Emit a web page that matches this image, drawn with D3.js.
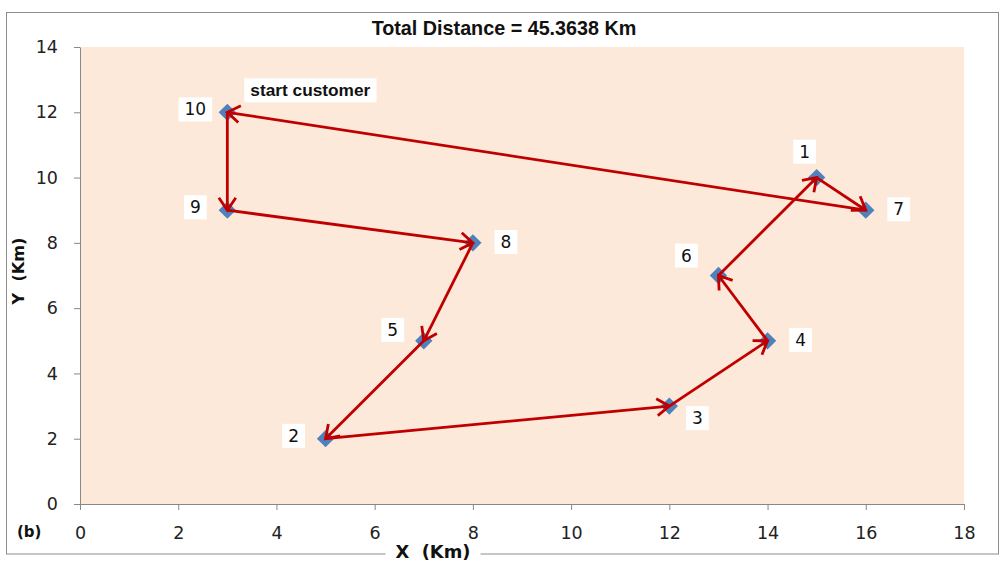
<!DOCTYPE html>
<html><head><meta charset="utf-8">
<script src="https://cdn.jsdelivr.net/npm/d3@7/dist/d3.min.js"></script>
<style>body{margin:0;background:#fff;}svg{display:block;font-family:"DejaVu Sans",Verdana,sans-serif;}</style>
</head><body>
<script>
// Data
const customers = [1,2,3,4,5,6,7,8,9,10];
const xs = [15,5,12,14,7,13,16,8,3,3];
const ys = [10,2,3,5,5,7,9,8,9,12];
const route = [10,9,8,5,2,3,4,6,1,7,10];
const xTicks = [0,2,4,6,8,10,12,14,16,18];
const yTicks = [0,2,4,6,8,10,12,14];
const title = "Total Distance = 45.3638 Km";
const startLabel = "start customer";
const xTitle = "X  (Km)";
const yTitle = "Y  (Km)";
const panelTag = "(b)";
// label placement (direction key) per customer
const labelPos = {1:"top",2:"left",3:"bottomright",4:"right",5:"upleft",6:"topleft",7:"right",8:"right",9:"left",10:"left"};

const W=1004,H=563;
const svg=d3.select("body").append("svg").attr("width",W).attr("height",H);
const m={l:80,r:964,t:47,b:504};
const x=d3.scaleLinear().domain([0,18]).range([m.l,m.r]);
const y=d3.scaleLinear().domain([0,14]).range([m.b,m.t]);
const FONT="DejaVu Sans, Verdana, sans-serif";
const ARIAL="Liberation Sans, Arial, sans-serif";

function fit(t,target){ // scale font-size so text width matches target
  const w=t.node().getComputedTextLength();
  const fs=parseFloat(t.attr("font-size"));
  t.attr("font-size",fs*target/w);
}
function boxBehind(parent,t,padX,padY,fixedH){
  const b=t.node().getBBox();
  const hh=fixedH||b.height+2*padY;
  const cy=b.y+b.height/2;
  parent.insert("rect",()=>t.node()).attr("x",b.x-padX).attr("y",cy-hh/2)
    .attr("width",b.width+2*padX).attr("height",hh).attr("fill","#fff");
}

// outer border
svg.append("rect").attr("x",6.5).attr("y",12.5).attr("width",992).attr("height",541.5)
  .attr("fill","#fff").attr("stroke","#8c8c8c").attr("stroke-width",1);

// plot background
svg.append("rect").attr("x",x(0)).attr("y",y(14)).attr("width",x(18)-x(0)).attr("height",y(0)-y(14))
  .attr("fill","#FDE9DA");

// axes
const gx=svg.append("g").attr("transform",`translate(0,${y(0)})`)
  .call(d3.axisBottom(x).tickValues(xTicks).tickSize(6).tickSizeOuter(0).tickPadding(17));
const gy=svg.append("g").attr("transform",`translate(${x(0)},0)`)
  .call(d3.axisLeft(y).tickValues(yTicks).tickSize(6).tickSizeOuter(0).tickPadding(16));
[gx,gy].forEach(g=>{
  g.selectAll("path,line").attr("stroke","#888");
  g.selectAll("text").attr("font-size",17.5).attr("fill","#222").attr("font-family",FONT);
});

// title
const tt=svg.append("text").attr("x",504).attr("y",35).attr("text-anchor","middle").attr("font-family",ARIAL)
  .attr("font-size",18).attr("font-weight","bold").attr("fill","#111").text(title);
fit(tt,265);

// axis titles
const xl=svg.append("text").attr("x",433).attr("y",558).attr("text-anchor","middle")
  .attr("font-size",16).attr("font-weight","bold").attr("fill","#111").attr("xml:space","preserve").text(xTitle);
fit(xl,75);
boxBehind(svg,xl,10,0,14);
const yl=svg.append("text").attr("transform","translate(24,271) rotate(-90)").attr("text-anchor","middle")
  .attr("font-size",16).attr("font-weight","bold").attr("fill","#111").attr("xml:space","preserve").text(yTitle);
fit(yl,67);
svg.append("text").attr("x",17).attr("y",537).attr("font-size",15).attr("font-weight","bold").attr("fill","#111").text(panelTag);

// arrows
const idx=id=>customers.indexOf(id);
const red="#C00000";
const arr=svg.append("g");
for(let i=0;i<route.length-1;i++){
  const a=idx(route[i]),b=idx(route[i+1]);
  const x1=x(xs[a]),y1=y(ys[a]),x2=x(xs[b]),y2=y(ys[b]);
  arr.append("line").attr("x1",x1).attr("y1",y1).attr("x2",x2).attr("y2",y2)
    .attr("stroke",red).attr("stroke-width",2.8);
  const ang=Math.atan2(y2-y1,x2-x1), L=15, sp=0.6;
  const p=[[x2-L*Math.cos(ang-sp),y2-L*Math.sin(ang-sp)],[x2,y2],[x2-L*Math.cos(ang+sp),y2-L*Math.sin(ang+sp)]];
  arr.append("path").attr("d",d3.line()(p)).attr("fill","none").attr("stroke",red).attr("stroke-width",2.8);
}

// markers below the arrows
svg.insert("g",()=>arr.node()).selectAll("path").data(customers).join("path")
  .attr("d",d3.symbol(d3.symbolSquare,150)())
  .attr("transform",(d,i)=>`translate(${x(xs[i])},${y(ys[i])}) rotate(45)`)
  .attr("fill","#4F81BD");

// labels
const off={top:[-12,-26],left:[-32,-3],right:[33,-1],bottomright:[28,12],upleft:[-31,-11],topleft:[-32,-20]};
const lg=svg.append("g");
customers.forEach((c,i)=>{
  const [dx,dy]=off[labelPos[c]];
  const cx=x(xs[i])+dx, cy=y(ys[i])+dy;
  const t=lg.append("text").attr("x",cx).attr("y",cy).attr("dy","0.36em").attr("text-anchor","middle")
    .attr("font-size",17).attr("fill","#111").attr("font-family",FONT).text(c);
  boxBehind(lg,t,6,0,24);
});
// start customer label
{
  const i=idx(10);
  const t=lg.append("text").attr("x",x(xs[i])+23).attr("y",y(ys[i])-16).attr("font-family",ARIAL)
    .attr("font-size",17).attr("font-weight","bold").attr("fill","#111").text(startLabel);
  fit(t,120);
  boxBehind(lg,t,6,0,24);
}
</script>
</body></html>
